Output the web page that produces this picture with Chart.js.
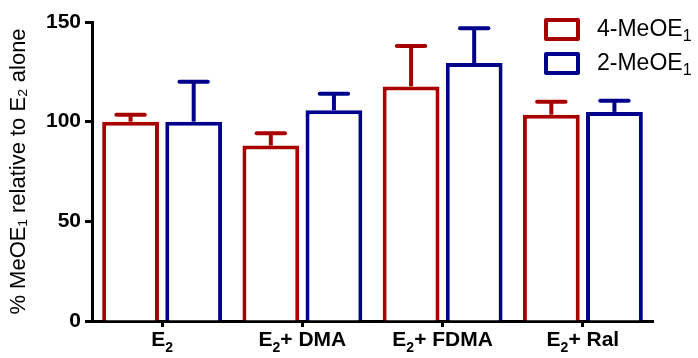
<!DOCTYPE html>
<html>
<head>
<meta charset="utf-8">
<script src="https://cdn.jsdelivr.net/npm/chart.js@4.4.0/dist/chart.umd.min.js"></script>
<style>
  html, body { margin: 0; padding: 0; background: #fff; }
  #wrap { width: 698px; height: 358px; }
</style>
</head>
<body>
<div id="wrap"><canvas id="chart" width="698" height="358"></canvas></div>
<script>
// Data
const categories = ['E₂', 'E₂+ DMA', 'E₂+ FDMA', 'E₂+ Ral'];
const seriesNames = ['4-MeOE₁', '2-MeOE₁'];
const meoe4 = [100, 88, 117.7, 103.5];
const meoe4Err = [3.5, 6.2, 20.3, 6.5];
const meoe2 = [100, 105.7, 129.4, 104.9];
const meoe2Err = [20, 8.3, 17.5, 5.6];
const yTicks = [0, 50, 100, 150];

const RED = '#a80000';
const BLUE = '#00008c';
const FONT = "'Liberation Sans', Arial, sans-serif";

// width of text where ₁/₂ become smaller digits
function subTextWidth(ctx, text, size, weight) {
    const subs = { '₁': '1', '₂': '2' };
    let w = 0;
    for (const ch of text) {
        ctx.font = weight + ' ' + (subs[ch] ? Math.round(size * 0.68) : size) + 'px ' + FONT;
        w += ctx.measureText(subs[ch] || ch).width;
    }
    return w;
}

// draws text, rendering ₁/₂ as lowered smaller digits
function drawSubText(ctx, text, x, y, size, weight) {
    const subs = { '₁': '1', '₂': '2' };
    let cx = x;
    for (const ch of text) {
        if (subs[ch]) {
            ctx.font = weight + ' ' + Math.round(size * 0.68) + 'px ' + FONT;
            ctx.fillText(subs[ch], cx, y + size * 0.3);
            cx += ctx.measureText(subs[ch]).width;
        } else {
            ctx.font = weight + ' ' + size + 'px ' + FONT;
            ctx.fillText(ch, cx, y);
            cx += ctx.measureText(ch).width;
        }
    }
}

// Error bars (upper only)
const errorBars = {
    id: 'errorBars',
    afterDatasetsDraw(chart) {
        const ctx = chart.ctx;
        const y = chart.scales.y;
        chart.data.datasets.forEach((ds, di) => {
            const meta = chart.getDatasetMeta(di);
            meta.data.forEach((bar, i) => {
                const top = y.getPixelForValue(ds.data[i] + ds.errors[i]);
                const half = bar.width / 4;
                ctx.save();
                ctx.strokeStyle = ds.borderColor;
                ctx.lineWidth = 4;
                ctx.beginPath();
                ctx.moveTo(bar.x, bar.y);
                ctx.lineTo(bar.x, top);
                ctx.stroke();
                ctx.lineCap = 'round';
                ctx.beginPath();
                ctx.moveTo(bar.x - half, top);
                ctx.lineTo(bar.x + half, top);
                ctx.stroke();
                ctx.restore();
            });
        });
    }
};

// Category labels with proper subscripts, placed at the x scale's tick positions
const subLabels = {
    id: 'subLabels',
    afterDraw(chart) {
        const ctx = chart.ctx;
        const x = chart.scales.x;
        ctx.save();
        ctx.fillStyle = '#000';
        ctx.textBaseline = 'alphabetic';
        ctx.textAlign = 'left';
        chart.data.labels.forEach((lab, i) => {
            const px = x.getPixelForTick(i);
            const w = subTextWidth(ctx, lab, 21, 'bold');
            drawSubText(ctx, lab, px - w / 2, x.top + 25, 21, 'bold');
        });
        ctx.restore();
    }
};

// Legend in the top right corner
const cornerLegend = {
    id: 'cornerLegend',
    afterDraw(chart) {
        const ctx = chart.ctx;
        chart.data.datasets.forEach((ds, i) => {
            const top = 18 + i * 34;
            ctx.save();
            ctx.strokeStyle = ds.borderColor;
            ctx.lineWidth = 4;
            ctx.lineJoin = 'round';
            ctx.strokeRect(546, top + 2, 32, 19);
            ctx.fillStyle = '#000';
            ctx.textBaseline = 'middle';
            drawSubText(ctx, ds.label, 597, top + 12, 23, 'normal');
            ctx.restore();
        });
    }
};

const ctx = document.getElementById('chart').getContext('2d');
window.meoeChart = new Chart(ctx, {
    type: 'bar',
    data: {
        labels: categories,
        datasets: [
            {
                label: seriesNames[0],
                data: meoe4,
                errors: meoe4Err,
                borderColor: RED,
                backgroundColor: '#fff',
                borderWidth: 4
            },
            {
                label: seriesNames[1],
                data: meoe2,
                errors: meoe2Err,
                borderColor: BLUE,
                backgroundColor: '#fff',
                borderWidth: 4
            }
        ]
    },
    options: {
        responsive: false,
        animation: false,
        devicePixelRatio: 1,
        layout: {
            padding: { top: 22, right: 45, left: 0, bottom: 0 }
        },
        datasets: {
            bar: { categoryPercentage: 0.9, barPercentage: 0.9 }
        },
        plugins: {
            legend: { display: false },
            tooltip: { enabled: false }
        },
        scales: {
            x: {
                grid: {
                    offset: false,
                    drawOnChartArea: false,
                    drawTicks: true,
                    tickLength: 6,
                    tickWidth: 3,
                    tickColor: '#000'
                },
                border: { display: true, color: '#000', width: 3 },
                ticks: { display: false },
                afterFit(scale) { scale.height = 37; }
            },
            y: {
                min: 0,
                max: 150,
                afterBuildTicks(scale) {
                    scale.ticks = yTicks.map(v => ({ value: v }));
                },
                grid: {
                    drawOnChartArea: false,
                    drawTicks: true,
                    tickLength: 7,
                    tickWidth: 3,
                    tickColor: '#000'
                },
                border: { display: true, color: '#000', width: 3 },
                ticks: {
                    color: '#000',
                    padding: 4,
                    font: { family: FONT, size: 21, weight: 'bold' }
                },
                title: {
                    display: true,
                    text: '% MeOE₁ relative to E₂ alone',
                    color: '#000',
                    padding: { top: 6, bottom: 0 },
                    font: { family: FONT, size: 22, weight: 'normal' }
                },
                afterFit(scale) { scale.width = 92; }
            }
        }
    },
    plugins: [errorBars, subLabels, cornerLegend]
});
</script>
</body>
</html>
